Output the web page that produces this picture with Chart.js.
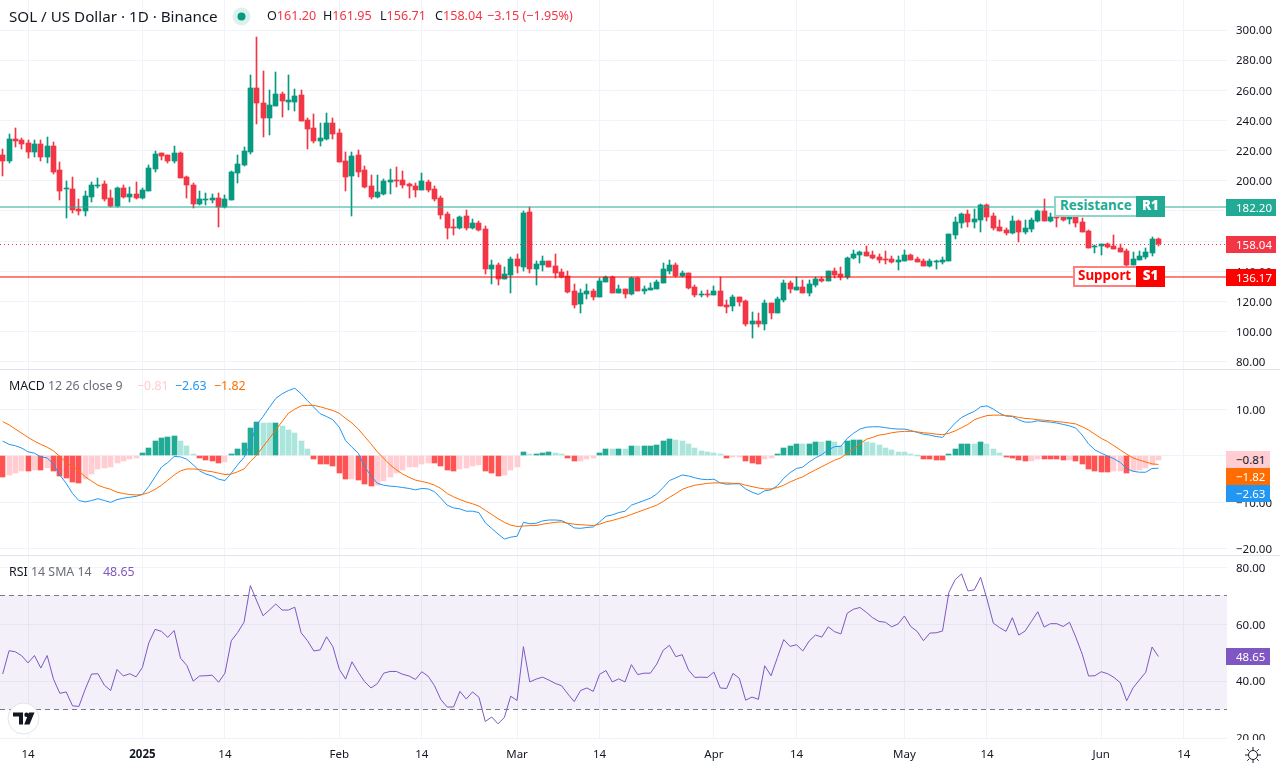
<!DOCTYPE html>
<html>
<head>
<meta charset="utf-8">
<title>SOL / US Dollar</title>
<script src="https://cdn.jsdelivr.net/npm/chart.js@4"></script>
<style>
  html, body { margin: 0; padding: 0; background: #fff; }
  body { width: 1280px; height: 768px; position: relative; overflow: hidden; font-family: "Noto Sans", sans-serif; color: #131722; }
  canvas { position: absolute; left: 0; }
  .txt { position: absolute; white-space: pre; line-height: 18px; height: 18px; }
  .tag { position: absolute; left: 1226px; height: 17px; line-height: 17px; padding-left: 10px; font-size: 11.5px; color: #fff; box-sizing: border-box; }
  .sep { position: absolute; left: 0; width: 1280px; height: 1px; background: #e0e3eb; }
  .box { position: absolute; left: 0; height: 21px; box-sizing: border-box; background: #fff; font-weight: bold; font-size: 13.4px; line-height: 15px; }
  .box b { position: absolute; top: -2px; bottom: -2px; right: -2px; width: 29px; color: #fff; text-align: center; line-height: 19px; }
</style>
</head>
<body>
<canvas id="priceChart" style="top:0"></canvas>
<canvas id="macdChart" style="top:370px"></canvas>
<canvas id="rsiChart" style="top:556px"></canvas>
<div class="sep" style="top:369px"></div>
<div class="sep" style="top:555px"></div>
<div style="position:absolute;left:1227px;top:740px;width:53px;height:28px;background:#fff"></div>

<div class="txt" style="left:9px;top:7px;font-size:15.2px">SOL / US Dollar · 1D · Binance</div>
<svg style="position:absolute;left:232px;top:7px" width="19" height="19"><circle cx="9.5" cy="9.5" r="9" fill="#089981" opacity="0.14"/><circle cx="9.5" cy="9.5" r="4" fill="#089981"/></svg>
<div class="txt" style="left:267px;top:7px;font-size:12.6px">O<span style="color:#f23645">161.20</span></div>
<div class="txt" style="left:323px;top:7px;font-size:12.6px">H<span style="color:#f23645">161.95</span></div>
<div class="txt" style="left:380px;top:7px;font-size:12.6px">L<span style="color:#f23645">156.71</span></div>
<div class="txt" style="left:435px;top:7px;font-size:12.6px">C<span style="color:#f23645">158.04</span></div>
<div class="txt" style="left:487px;top:7px;font-size:12.6px;color:#f23645">−3.15 (−1.95%)</div>
<div class="txt" style="left:9px;top:377px;font-size:12.4px">MACD <span style="color:#6a6d78">12 26 close 9</span></div>
<div class="txt" style="left:137px;top:377px;font-size:12.4px;color:#ffcdd2">−0.81</div>
<div class="txt" style="left:175px;top:377px;font-size:12.4px;color:#2196f3">−2.63</div>
<div class="txt" style="left:214px;top:377px;font-size:12.4px;color:#ff6d00">−1.82</div>
<div class="txt" style="left:9px;top:563px;font-size:12.4px">RSI <span style="color:#6a6d78">14 SMA 14</span></div>
<div class="txt" style="left:103px;top:563px;font-size:12.4px;color:#7e57c2">48.65</div>

<div class="box" style="left:1054px;top:196px;width:111px;color:#22ab94;border:2px solid rgba(34,171,148,0.5);padding-left:4px">Resistance<b style="background:#22ab94">R1</b></div>
<div class="box" style="left:1073px;top:266px;width:92px;color:#f00;border:2px solid rgba(255,0,0,0.5);padding-left:3px">Support<b style="background:#f00">S1</b></div>

<div class="tag" style="top:199px;width:50px;background:#22ab94">182.20</div>
<div class="tag" style="top:236px;width:50px;background:#f23645">158.04</div>
<div class="tag" style="top:269px;width:50px;background:#f00">136.17</div>
<div class="tag" style="top:451px;width:44px;background:#ffcdd2;color:#131722">−0.81</div>
<div class="tag" style="top:468px;width:44px;background:#ff6d00">−1.82</div>
<div class="tag" style="top:485px;width:44px;background:#2196f3">−2.63</div>
<div class="tag" style="top:648px;width:44px;background:#7e57c2">48.65</div>

<svg style="position:absolute;left:7px;top:702px" width="33" height="33" viewBox="0 0 33 33"><circle cx="16.5" cy="16.5" r="15.5" fill="#fff" stroke="#e0e3eb"/><path fill="#131722" d="M6 10.500h10v12h-4v-8H6zM19.500 10.500a2.200 2.200 0 1 1 0 4.400 2.200 2.200 0 0 1 0-4.400zM22 10.500h5.500l-5 12h-5.300z"/></svg>
<svg style="position:absolute;left:1245px;top:747px" width="16" height="16" viewBox="0 0 16 16" fill="none" stroke="#131722"><circle cx="8" cy="8" r="4.500"/><path d="M8 0v3M8 13v3M0 8h3M13 8h3M2.300 2.300l2 2M11.700 11.700l2 2M2.300 13.700l2-2M11.700 4.300l2-2"/></svg>

<script>
// price pane, one value per daily candle
const opens = [217.1,213.2,227.5,227.1,225,219.1,224.4,215.8,223.1,207.2,194.4,194.6,181.3,180,189.3,196.6,197.9,188.6,183.3,195.2,189.3,191.3,188.6,193.3,207.9,218.5,217.1,213.2,218.5,202.5,197.2,184.6,187.3,187.6,188.6,182.7,187.3,205.2,210.5,219.1,261.6,251.6,241.7,249.6,257.6,252.5,252.3,256.9,240.3,235,226.4,227.7,238.3,231.7,213.2,203.2,217.1,207.2,196.6,189.3,191.3,199.2,200.6,
  200.5,197.9,196.6,193.9,199.2,194.6,188.6,178,169.4,168.7,176.7,168.7,172,168,141.5,144.2,134.9,137.6,148.2,142.9,179.3,141.5,144.2,146.8,143.5,139.6,136.9,127,118.3,125,127,123,132.9,136.2,125.6,128.3,125,135.6,127,127.6,128.3,132.3,140.2,144.2,136.9,138.9,129.6,124.3,125,124.3,127,117.7,117,123,120.3,105.1,107.1,105.1,119,112.4,121,132.3,127.6,
  129.6,125.6,130.9,134.9,133.6,140.2,138.2,136.2,148.8,150.8,152.8,150.8,149.5,148.2,148.2,146.2,146.8,150.8,148.2,146.8,143.5,146.2,146.2,146.8,164.1,172,178,172.7,174,184,176.7,169.4,167.4,165.4,173.4,166.1,168,173.4,180,173.4,176,176,174.7,177,172.7,166.7,156.3,156.6,158.1,156.8,155.5,153.5,144.2,147.5,149.5,152.2,161.2];
const closes = [213.4,227.5,226.2,224.4,219.1,224.4,215.8,223.1,205.9,193.3,194.7,180.7,180,190,197.2,197.5,188,183.3,195.2,189.3,191.3,188.6,193.9,208.5,217.8,216.5,213.2,218.5,201.9,197.2,184.6,188,187.9,188.6,182.7,188,205.9,211.2,219.8,261.6,251.6,241.7,250.3,257.6,252.9,253.6,256.2,239.7,234.4,226.4,228.4,238.3,231.1,212.5,202.5,216.5,205.9,195.9,189.3,192.6,199.9,200.6,199.9,
  197.2,196.6,193.9,199.9,193.9,188,177.3,168.7,168.7,176,168.7,172,167.4,141.5,144.2,134.9,138.2,148.2,143.5,178.7,141.5,144.9,146.8,142.9,138.9,136.2,126.3,117.7,125.6,127,123,133.6,136.2,125.6,128.3,125,135.6,127,128.3,129,132.9,141.5,144.2,136.9,138.9,128.9,124.3,125,124.3,127,117,116.3,123,119.7,105.1,107.1,105.1,119,112.4,121.6,132.3,128.3,129.6,
  125.6,131.6,134.9,133.6,140.2,137.6,136.2,148.8,151.5,152.8,150.2,148.8,147.5,147.5,146.2,147.5,150.8,147.5,146.2,143.5,146.8,146.8,147.5,164.7,172.7,178,172.7,174.7,184,176,168.7,166.7,165.4,173.4,166.1,168.7,174,180,173.4,176,175.4,174,176.7,172,166.1,155.5,157,158.1,156.1,154.8,152.8,144.2,148.2,150.2,152.8,161.4,158.04];
const highs = [221.1,230.8,235,228.4,227.1,227.1,227.1,229.1,225.8,212.3,199.9,202.5,187.9,193.3,199.2,201.9,199.9,193.9,195.9,197.2,195.9,199.2,195.2,210.5,219.8,218.5,217.1,223.1,219.1,203.2,198.6,193.3,191.9,191.3,191.9,190.6,206.5,217.1,222.4,270.2,295.4,272.8,260.2,272.2,258.9,270.2,260.9,260.2,241.7,244.3,238.3,245,241.7,234.4,219.1,219.1,220.5,209.8,203.9,203.9,201.2,207.9,209.2,
  206.5,198.6,198.6,205.2,200.5,196.6,189.9,179.3,174.7,176.7,180.7,174.7,173.4,170,147.5,145.5,142.9,149.5,151.5,180,182.4,146.8,150.2,146.8,151.5,141.5,140.2,131.6,128.3,131.6,128.3,135.6,136.9,136.9,130.9,128.3,136.2,136.2,130.3,132.3,134.2,145.5,147.5,145.5,140.2,138.9,130.9,127,127.6,130.3,136.2,121,124.3,123,121,113,112.4,121,119,123,134.2,133.6,136.2,
  134.2,134.2,136.2,136.2,140.2,142.2,142.9,149.5,154.1,153.5,156.8,153.5,151.5,153.5,150.2,150.2,154.1,151.5,149.5,148.2,148.2,147.5,149.5,164.7,176,178.7,180.7,181.3,184.6,184.6,178.7,174,168.7,176.7,174,174,175.4,180.7,188,178.7,179,179.5,179.5,178.5,175.4,167.4,157.5,158.1,158.5,164.1,158.1,154.8,152.8,153.5,155.5,162.8,161.95];
const lows = [203.2,212,222.4,221.1,215.1,215.8,213.2,211.8,204.5,187.3,175.4,178.7,177.4,176.7,186,195.3,186.6,182.7,182.7,188.6,186,188,188,193.3,205.9,213.8,211.8,211.8,201.9,188.6,182,184,184,185.3,169.4,182,187.3,198.6,209.8,217.8,237.7,229.1,230.4,249.6,242.3,247,246.3,239.7,221.1,225.1,223.1,227.1,227.7,212.5,193.3,176.7,202.5,195.2,188,188.6,190.6,191.3,195.9,
  195.2,188.6,189.3,193.9,192.6,186.6,174.7,161.4,164.1,168,167.4,168,166.7,138.2,131.6,130.9,134.9,125.6,138.9,140.2,138.9,130.9,140.2,142.9,135.6,135.6,125.6,115.7,112.4,121.6,121,123,132.9,125.6,125.6,122.3,124.3,127,125,127.6,128.3,132.3,138.2,136.2,136.2,128.3,123,123,123,124.3,117,112.4,113.7,117,103.8,95.8,103.1,101.1,108.4,112.4,119.7,125.6,127.6,
  125.6,123.6,129.6,132.9,133.6,135.6,134.2,134.9,148.2,145.5,150.2,148.2,145.5,144.9,145.5,140.9,146.8,147.5,146.2,143.5,142.9,141.5,144.9,146.8,161.4,168.7,169.4,168.7,166.1,173.4,167.4,166.7,164.1,164.7,159.4,164.7,166.1,172.7,173.4,172.7,169.4,173.4,171.4,169.4,166.1,155.5,152.2,150.8,155.5,154.8,152.8,142.2,144.2,147.5,148.2,150.2,156.71];

const resistance = 182.20;
const support = 136.17;
const lastClose = 158.04;

// MACD pane
const macdHist = [-4.5,-4.1,-3.7,-3.2,-3.2,-3,-3,-2.6,-3.2,-4.3,-4.7,-5.6,-5.8,-5,-3.9,-2.8,-2.6,-2.4,-1.5,-1.1,-0.6,-0.4,0.6,1.7,3.2,3.9,4.1,4.3,3.2,2.2,0.4,-0.4,-0.9,-1.1,-1.5,-1.3,0.4,1.5,2.8,6,7.3,7.1,7.1,7.1,6.5,5.6,5,3.2,1.5,-0.6,-1.7,-1.7,-2.2,-3.7,-5,-5,-5.2,-6,-6.5,-6.3,-5.4,-4.5,-3.7,-3,-2.4,-2.4,
  -1.7,-1.5,-1.5,-2.2,-3,-3.2,-2.8,-2.6,-2.2,-1.9,-3.2,-3.7,-4.3,-4.1,-3,-2.4,0.9,0.4,0.4,0.6,0.9,0.6,0.4,-0.4,-1.1,-1.1,-0.6,-0.4,0.6,1.5,1.5,1.5,1.5,2.2,2.2,2.2,2.2,2.4,3.2,3.7,3.5,3.2,2.6,1.7,1.1,0.9,0.6,0.2,-0.4,-0.2,-0.2,-1.1,-1.5,-1.7,-0.6,-0.4,0.4,1.7,2.2,2.6,2.6,2.6,3,3,3.2,3,2.2,
  3.2,3.5,3.5,3,2.8,2.4,1.7,1.3,0.9,0.9,0.4,0.1,-0.6,-0.6,-0.8,-0.8,0.4,1.5,2.6,2.6,2.6,3,2.6,1.5,0.6,-0.2,-0.4,-0.9,-1.1,-1.1,-0.6,-0.6,-0.6,-0.6,-0.8,-0.8,-1.1,-1.7,-2.8,-3.2,-3.5,-3.5,-3.2,-3.2,-3.7,-3.2,-3,-2.6,-1.9,-0.81];
const histFaded = [0,1,1,1,0,1,0,1,0,0,0,0,0,1,1,1,1,1,1,1,1,1,0,0,0,0,0,0,1,1,1,0,0,0,0,1,0,0,0,0,0,1,1,0,1,1,1,1,1,0,0,0,0,0,0,1,0,0,0,1,1,1,1,1,1,1,
  1,1,0,0,0,0,1,1,1,1,0,0,0,1,1,1,0,1,0,0,0,1,1,0,0,1,1,1,0,0,1,0,1,0,1,0,0,0,0,0,1,1,1,1,1,1,1,1,0,1,1,0,0,0,1,1,0,0,0,0,1,0,0,1,0,1,1,
  0,0,0,1,1,1,1,1,1,1,1,1,0,0,0,0,0,0,0,0,1,0,1,1,1,0,0,0,0,1,1,0,0,0,0,1,0,0,0,0,0,0,1,1,0,1,1,1,1,1];
const macdLine = [3.2,2.5,2.2,1.7,0.9,0.6,-0.2,-0.4,-1.8,-4.1,-5.9,-8.1,-9.6,-9.9,-9.6,-9.2,-9.6,-10,-9.4,-9.1,-8.9,-8.7,-8.3,-6.6,-4.5,-2.4,-1.4,-0.1,-0.2,-0.7,-1.9,-3.2,-3.9,-4.3,-5,-5.3,-3.7,-1.9,-0.3,2.6,6.7,8.5,10.5,12.4,13.4,14.1,14.6,13.4,11.9,10.5,9.1,8.5,7.8,6.2,3.3,1.9,0.6,-2.3,-4.3,-5.9,-6.3,-6.5,-6.6,-6.8,-7,-7.3,
  -7,-7.1,-7.7,-9.1,-10.6,-11.2,-11.4,-11.9,-11.9,-12.2,-14.4,-15.6,-16.8,-17.9,-17.5,-17.3,-14.3,-14.6,-14.5,-14,-13.8,-13.8,-13.9,-14.6,-15.5,-15.6,-15.4,-15.3,-14.2,-13,-12.7,-12.2,-11.9,-10.6,-10.1,-9.6,-9.1,-8.2,-6.8,-5.3,-4.7,-4.1,-4.3,-4.7,-5,-5.1,-5,-5.8,-6.1,-6,-6,-7.1,-7.8,-8.3,-7.5,-7.3,-6.4,-4.8,-3.6,-2.7,-2.4,-1.3,-0.4,0.3,1.3,2,2.1,
  3.8,4.9,5.8,6.2,6.3,6.3,6.1,5.9,5.8,5.8,5.5,5.1,4.7,4.5,4.2,4,5.6,7.1,8.3,9,9.6,10.6,10.8,10.1,9.2,8.6,8.5,7.8,7.3,7.3,7.6,7.4,7.3,7.1,6.8,6.5,6,4.5,2.6,1.3,0.6,0,-0.6,-1.4,-2.7,-3.3,-3.5,-3.5,-2.7,-2.63];
const signalLine = [7.4,6.7,5.8,4.9,4,3.2,2.5,1.9,1.1,-0.1,-1.4,-2.3,-3.2,-4.5,-5.4,-6.3,-6.8,-7.2,-7.8,-8.1,-8.3,-8.4,-8.3,-7.9,-7.2,-6.3,-5.2,-4.1,-3.2,-2.8,-2.8,-2.9,-3.2,-3.4,-3.7,-4,-3.9,-3.4,-2.8,-1.2,0.2,2,3.8,5.6,7.4,9.2,10.1,10.8,10.9,10.9,10.6,10.2,9.8,9.2,8.1,7.1,5.8,4.2,2.6,0.9,-0.5,-1.9,-3,-3.9,-4.6,-5.2,
  -5.5,-5.8,-6.3,-7,-8.1,-8.8,-9.4,-9.9,-10.3,-10.8,-11.7,-12.6,-13.5,-14.3,-14.9,-15.2,-15.1,-15,-15,-14.7,-14.5,-14.3,-14.2,-14.5,-14.7,-14.8,-14.9,-15,-14.7,-14.2,-13.9,-13.5,-13.1,-12.6,-12.1,-11.6,-11.1,-10.6,-9.8,-8.9,-8.1,-7.2,-6.7,-6.3,-6.1,-5.9,-5.8,-5.8,-5.8,-5.9,-5.9,-6.3,-6.6,-6.9,-7.1,-7.1,-6.8,-6.3,-5.6,-5,-4.5,-3.7,-3,-2.3,-1.6,-0.9,-0.4,
  0.6,1.5,2.6,3.6,4,4.5,4.7,5,5.2,5.3,5.3,5.2,5,4.9,4.7,4.6,4.9,5.4,6.1,6.8,7.8,8.3,8.7,8.8,8.8,8.7,8.6,8.3,8.1,8,7.8,7.7,7.6,7.4,7.3,7.1,6.9,6.3,5.6,4.7,3.8,3.1,2.2,1.3,0.4,-0.4,-0.9,-1.3,-1.7,-1.82];

// RSI pane
const rsiLine = [42.5,50.7,50.3,48.9,46.4,49,44.6,49,40.7,35.7,36.2,31.3,31.1,37.2,42.5,42.6,38.6,36.7,44.1,41.8,42.6,41.5,44.8,53.4,58.2,57.5,55.4,57.8,48.1,45.5,40,41.8,41.9,42.1,39.6,42.8,54.2,57.1,60.7,73.6,68.2,63,65,67.1,65,65,66,57,54.2,50.6,51,55.6,52.1,44.2,40.7,46.8,43.1,39.8,37.6,39.1,42.8,43.4,43.4,42.4,41.8,40.6,
  43.3,41.7,38.4,33.5,30.9,30.9,36.4,33.7,36.2,34.3,25.8,27.4,25,27.2,34.7,33.2,52.1,39.7,40.7,41.4,40.4,39.2,38.4,35.5,32.8,36.7,37.6,36.4,42.4,43.7,39.7,40.8,39.7,45.8,42.3,42.8,42.8,46,50.8,52.6,48.6,49.3,43.9,41.3,41.4,41.3,43.2,37.6,37.4,42.7,41,33.3,34.4,33.6,45.4,41.9,48.3,54.6,52.2,52.8,50.6,54.1,56.2,55.5,59.1,57.4,56.6,
  63.9,65.3,65.9,64.2,62.3,61,60.7,59.1,60.1,62.9,59.2,57.5,54.2,56.9,57,57.6,71.2,75.7,77.7,71.7,72.1,76.5,68.9,60.4,58.8,57.5,62.3,56.2,57.6,61,64.4,59,60.2,60.2,59.2,60.7,55.4,49.5,41.8,41.9,43.3,42.6,41.3,39.4,33.1,37.6,40.4,43.1,52,48.65];
const rsiUpper = 70;
const rsiLower = 30;

// axes: days are counted from 14 Dec 2024, the first candle is four days before that
const firstDay = -4;
const tickDays = [0, 18, 31, 49, 62, 77, 90, 108, 121, 138, 151, 169, 182];
const tickLabels = ['14', '2025', '14', 'Feb', '14', 'Mar', '14', 'Apr', '14', 'May', '14', 'Jun', '14'];
const priceTicks = [300, 280, 260, 240, 220, 200, 180, 160, 140, 120, 100, 80];
const macdTicks = [10, 0, -10, -20];
const rsiTicks = [80, 60, 40, 20];

const FONT = '"Noto Sans"';
const UP = '#089981', DOWN = '#f23645';
const GRID = '#f0f3fa';
const X_MIN = -4.425, X_MAX = 188.8;

const days = opens.map((_, i) => firstDay + i);
const series = vals => vals.map((v, i) => ({ x: days[i], y: v }));
const level = v => [{ x: X_MIN, y: v }, { x: X_MAX, y: v }];

// keep candles, bars and level lines on whole pixels so that they stay crisp
const snapMarks = {
  id: 'snapMarks',
  afterDatasetsUpdate(chart) {
    chart.getSortedVisibleDatasetMetas().forEach(meta => {
      if (meta.type === 'bar') {
        meta.data.forEach(el => {
          el.x = Math.floor(el.x) + 0.5;
          el.y = Math.round(el.y);
          el.base = Math.round(el.base);
          if (el.y === el.base) el.y = el.base - 1;
        });
      } else if (meta.data.length === 2) {
        const odd = meta.dataset.options.borderWidth % 2 === 1;
        meta.data.forEach(el => { el.y = Math.floor(el.y) + (odd ? 0.5 : 0); });
      }
    });
  }
};

function xScale(showLabels) {
  return {
    type: 'linear', min: X_MIN, max: X_MAX, offset: false,
    grid: { color: GRID, drawTicks: false, offset: false },
    border: { display: false },
    afterBuildTicks: s => { s.ticks = tickDays.map(d => ({ value: d })); },
    afterFit: s => { s.paddingLeft = 0; s.paddingRight = 0; s.height = showLabels ? 30 : 0; },
    ticks: {
      display: showLabels, autoSkip: false, maxRotation: 0, padding: 10, color: '#131722',
      font: ctx => ({ family: FONT, size: 11.5, weight: tickLabels[ctx.index] === '2025' ? 'bold' : 'normal' }),
      callback: (v, i) => tickLabels[i]
    }
  };
}

function yScale(min, max, tickVals) {
  return {
    position: 'right', min: min, max: max,
    grid: { color: GRID, drawTicks: false },
    border: { display: false },
    afterBuildTicks: s => { s.ticks = tickVals.map(v => ({ value: v })); },
    afterFit: s => { s.width = 53; s.paddingTop = 0; s.paddingBottom = 0; },
    ticks: {
      padding: 9, labelOffset: 1, color: '#131722', font: { family: FONT, size: 11.5 }, align: 'center', crossAlign: 'near',
      callback: v => (v === 0 ? '' : v.toFixed(2).replace('-', '−'))
    }
  };
}

function baseOptions(x, y) {
  return {
    responsive: false, animation: false, events: [],
    layout: { padding: 0 },
    plugins: { legend: { display: false }, tooltip: { enabled: false } },
    scales: { x: x, y: y }
  };
}

function makeChart(id, height, datasets, options) {
  const canvas = document.getElementById(id);
  canvas.width = 1280;
  canvas.height = height;
  return new Chart(canvas, { type: 'bar', data: { datasets: datasets }, options: options, plugins: [snapMarks] });
}

function lineSet(vals, color, width, order, extra) {
  return Object.assign({ type: 'line', data: vals, borderColor: color, borderWidth: width, pointRadius: 0, tension: 0, order: order, fill: false }, extra || {});
}

const candleColors = closes.map((c, i) => (c >= opens[i] ? UP : DOWN));

makeChart('priceChart', 369, [
  lineSet(level(resistance), 'rgba(34,171,148,0.5)', 2, 1),
  lineSet(level(support), 'rgba(255,0,0,0.5)', 2, 1),
  lineSet(level(lastClose), DOWN, 1, 1, { borderDash: [1, 3] }),
  { label: 'body', data: days.map((d, i) => ({ x: d, y: [opens[i], closes[i]] })), backgroundColor: candleColors, barThickness: 5, minBarLength: 1, grouped: false, order: 2 },
  { label: 'wick', data: days.map((d, i) => ({ x: d, y: [lows[i], highs[i]] })), backgroundColor: candleColors, barThickness: 1, grouped: false, order: 3 }
], baseOptions(xScale(false), yScale(75.2, 319.9, priceTicks)));

const histColors = macdHist.map((v, i) => {
  if (v >= 0) return histFaded[i] ? '#ace5dc' : '#22ab94';
  return histFaded[i] ? '#ffcdd2' : '#ff5252';
});

makeChart('macdChart', 185, [
  lineSet(series(signalLine), '#ff6d00', 1, 1),
  lineSet(series(macdLine), '#2196f3', 1, 2),
  { label: 'hist', data: series(macdHist), backgroundColor: histColors, barThickness: 5, grouped: false, order: 3 }
], baseOptions(xScale(false), yScale(-21.34, 18.53, macdTicks)));

makeChart('rsiChart', 212, [
  lineSet(series(rsiLine), '#7e57c2', 1, 1),
  lineSet(level(rsiUpper), '#787b86', 1, 2, { borderDash: [5, 4] }),
  lineSet(level(rsiLower), '#787b86', 1, 2, { borderDash: [5, 4] }),
  lineSet(level(rsiUpper), 'transparent', 0, 3, { fill: { value: rsiLower }, backgroundColor: 'rgba(126,87,194,0.09)' })
], baseOptions(xScale(true), yScale(20, 84, rsiTicks)));
</script>
</body>
</html>
